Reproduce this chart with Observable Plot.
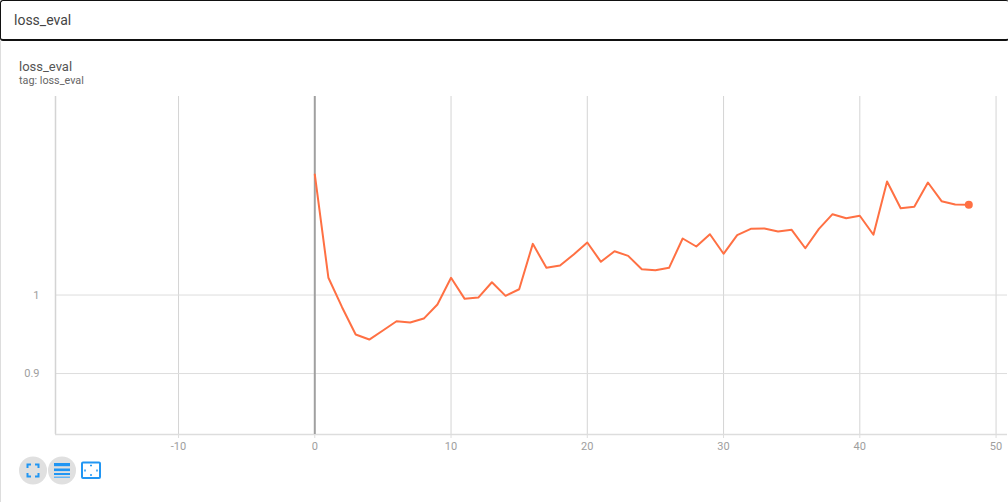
<!DOCTYPE html>
<html>
<head>
<meta charset="utf-8">
<script src="https://cdn.jsdelivr.net/npm/d3@7"></script>
<script src="https://cdn.jsdelivr.net/npm/@observablehq/plot@0.6"></script>
<style>
html,body{margin:0;padding:0;background:#fff;width:1008px;height:502px;overflow:hidden;font-family:Roboto,sans-serif}
#search{position:absolute;left:0;top:0;width:1008px;height:38px;box-sizing:content-box;border:1px solid #111;border-bottom:2px solid #111;border-right:none;border-radius:3px;}
#search span{position:absolute;left:13px;top:11px;font-size:14px;color:#444}
#edge{position:absolute;left:0;top:41px;width:1px;height:461px;background:#ddd}
#t1{position:absolute;left:19px;top:59px;font-size:13px;color:#555}
#t2{position:absolute;left:19px;top:74px;font-size:10.8px;color:#666}
#chart{position:absolute;left:0;top:90px}
#icons{position:absolute;left:19px;top:456px}
</style>
</head>
<body>
<div id="search"><span>loss_eval</span></div>
<div id="edge"></div>
<div id="t1">loss_eval</div>
<div id="t2">tag: loss_eval</div>
<div id="chart"></div>
<div id="icons">
<svg width="90" height="30" viewBox="0 0 90 30">
<circle cx="14" cy="14.5" r="14" fill="#e0e0e0"/>
<circle cx="43" cy="14.5" r="14" fill="#e0e0e0"/>
<path d="M8.5 12V8.5H12M16 8.5H19.5V12M19.5 17V20.5H16M12 20.5H8.5V17" fill="none" stroke="#2196f3" stroke-width="2"/>
<rect x="35" y="7" width="16" height="3.2" fill="#2196f3"/>
<rect x="35" y="12.5" width="16" height="2.6" fill="#2196f3"/>
<rect x="35" y="17" width="16" height="2" fill="#2196f3"/>
<rect x="35" y="20.5" width="16" height="1.5" fill="#64b5f6"/>
<rect x="63" y="6.5" width="18" height="15.5" rx="1" fill="#fff" stroke="#2196f3" stroke-width="2"/>
<path d="M71 9.5h2M71 19h2M66 13.5v2M78 13.5v2" stroke="#2196f3" stroke-width="1.5"/>
</svg>
</div>
<script>
const steps = [0,1,2,3,4,5,6,7,8,9,10,11,12,13,14,15,16,17,18,19,20,21,22,23,24,25,26,27,28,29,30,31,32,33,34,35,36,37,38,39,40,41,42,43,44,45,46,47,48];
const lossValues = [1.1756,1.0234,0.9838,0.9484,0.9420,0.9535,0.9654,0.9638,0.9689,0.9873,1.0234,0.9949,0.9966,1.0173,0.9989,1.0078,1.0711,1.0372,1.0404,1.0559,1.0730,1.0456,1.0606,1.0540,1.0352,1.0338,1.0372,1.0788,1.0673,1.0850,1.0569,1.0836,1.0929,1.0934,1.0890,1.0915,1.0648,1.0929,1.1146,1.1086,1.1122,1.0842,1.1646,1.1236,1.1257,1.1630,1.1342,1.1292,1.1287];
const xTicks = [-10,0,10,20,30,40,50];
const yTicks = [0.9,1];
const xDomain = [-19.03,50.84];
const yDomain = [0.8293,1.3053];
const rows = steps.map((s,i)=>({step:s,loss:lossValues[i]}));
const lineColor = "#ff7043";
const chart = Plot.plot({
  width:1008,height:370,marginLeft:55,marginRight:1,marginTop:6,marginBottom:26,
  style:{fontFamily:"Roboto,sans-serif",fontSize:"11px",color:"#9e9e9e",background:"transparent",overflow:"visible"},
  x:{domain:xDomain,label:null},
  y:{type:"log",domain:yDomain,label:null},
  marks:[
    Plot.ruleX(xTicks.filter(d=>d!==0),{stroke:"#d4d4d4",strokeWidth:1,strokeOpacity:1}),
    Plot.ruleY(yTicks,{stroke:"#ddd",strokeWidth:1}),
    Plot.ruleX([-19.03],{stroke:"#d4d4d4",strokeWidth:1.5}),
    Plot.ruleY([0.8293],{stroke:"#ddd",strokeWidth:1.5}),
    Plot.ruleX([0],{stroke:"#a0a0a0",strokeWidth:2}),
    Plot.axisX({ticks:xTicks,tickSize:4,tickPadding:4,stroke:"#ddd",fill:"#9e9e9e",label:null,tickFormat:d=>String(d)}),
    Plot.axisY({ticks:yTicks,tickSize:0,tickPadding:16,fill:"#9e9e9e",label:null,tickFormat:d=>String(d)}),
    Plot.line(rows,{x:"step",y:"loss",stroke:lineColor,strokeWidth:2,curve:"linear"}),
    Plot.dot(rows.slice(-1),{x:"step",y:"loss",r:4,fill:lineColor,stroke:"none"})
  ]
});
document.getElementById("chart").appendChild(chart);
</script>
</body>
</html>
